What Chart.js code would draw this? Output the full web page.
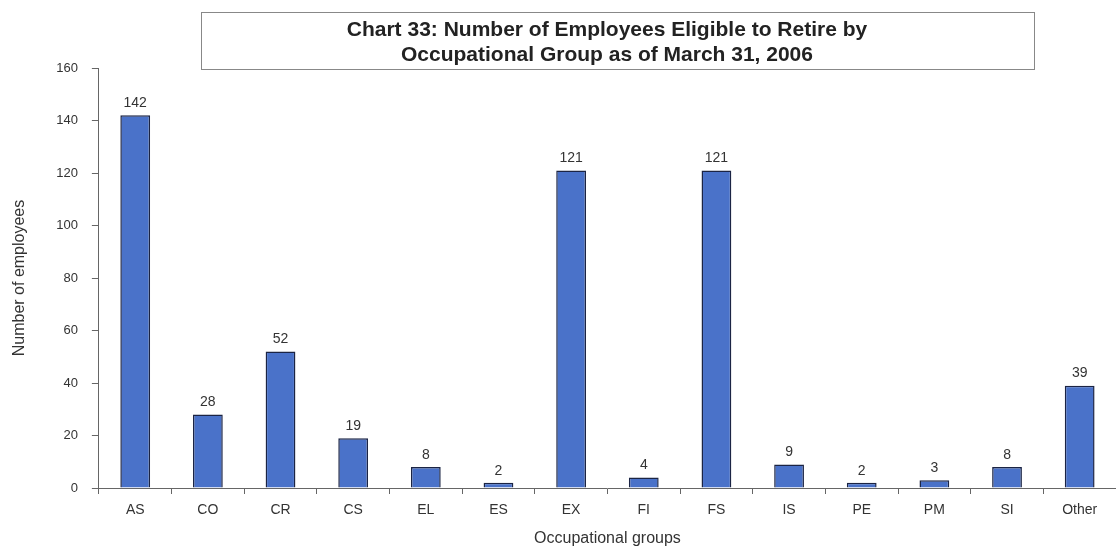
<!DOCTYPE html>
<html>
<head>
<meta charset="utf-8">
<script src="https://cdn.jsdelivr.net/npm/chart.js@4"></script>
<style>
  body { margin: 0; background: #fff; }
  #wrap { width: 1116px; height: 548px; }
</style>
</head>
<body>
<div id="wrap"><canvas id="barChart"></canvas></div>
<script>
const groups = ['AS','CO','CR','CS','EL','ES','EX','FI','FS','IS','PE','PM','SI','Other'];
const employees = [142, 28, 52, 19, 8, 2, 121, 4, 121, 9, 2, 3, 8, 39];
const yTicks = [0, 20, 40, 60, 80, 100, 120, 140, 160];
const titleLines = ['Chart 33: Number of Employees Eligible to Retire by', 'Occupational Group as of March 31, 2006'];

const FONT = '"Liberation Sans", Arial, sans-serif';

// values above each bar
const valueLabels = {
  id: 'valueLabels',
  afterDatasetsDraw(chart) {
    const ctx = chart.ctx;
    const meta = chart.getDatasetMeta(0);
    ctx.save();
    ctx.font = '14px ' + FONT;
    ctx.fillStyle = '#333';
    ctx.textAlign = 'center';
    ctx.textBaseline = 'bottom';
    meta.data.forEach((bar, i) => {
      ctx.fillText(employees[i], bar.x, bar.y - 5);
    });
    ctx.restore();
  }
};

// boxed title, centred in its box
const titleBox = {
  id: 'titleBox',
  afterDraw(chart) {
    const ctx = chart.ctx;
    ctx.save();
    ctx.strokeStyle = '#888';
    ctx.lineWidth = 1;
    ctx.strokeRect(201.5, 12.5, 833, 57);
    ctx.font = 'bold 21px ' + FONT;
    ctx.fillStyle = '#222';
    ctx.textAlign = 'center';
    ctx.textBaseline = 'middle';
    ctx.fillText(titleLines[0], 607, 30);
    ctx.fillText(titleLines[1], 607, 55);
    ctx.restore();
  }
};

new Chart(document.getElementById('barChart'), {
  type: 'bar',
  data: {
    labels: groups,
    datasets: [{
      data: employees,
      backgroundColor: '#4a72c9',
      borderColor: '#1b2444',
      borderWidth: 1.5,
      categoryPercentage: 1,
      barPercentage: 0.41
    }]
  },
  options: {
    responsive: true,
    maintainAspectRatio: false,
    animation: false,
    layout: { padding: { top: 68, right: 0, left: 10, bottom: 0 } },
    plugins: {
      legend: { display: false },
      tooltip: { enabled: false },
      title: { display: false }
    },
    scales: {
      x: {
        grid: { drawOnChartArea: false, drawTicks: true, tickLength: 6, color: '#666', offset: true },
        border: { display: true, color: '#666' },
        ticks: { color: '#333', font: { family: FONT, size: 14 }, padding: 8 },
        title: {
          display: true,
          text: 'Occupational groups',
          color: '#333',
          font: { family: FONT, size: 16 },
          padding: { top: 2, bottom: 0 }
        }
      },
      y: {
        min: 0,
        max: 160,
        afterBuildTicks(axis) { axis.ticks = yTicks.map(v => ({ value: v })); },
        grid: { drawOnChartArea: false, drawTicks: true, tickLength: 7, color: '#666' },
        border: { display: true, color: '#666' },
        ticks: { color: '#333', font: { family: FONT, size: 13 }, padding: 14 },
        title: {
          display: true,
          text: 'Number of employees',
          color: '#333',
          font: { family: FONT, size: 16 },
          padding: { top: 0, bottom: 13 }
        }
      }
    }
  },
  plugins: [valueLabels, titleBox]
});
</script>
</body>
</html>
